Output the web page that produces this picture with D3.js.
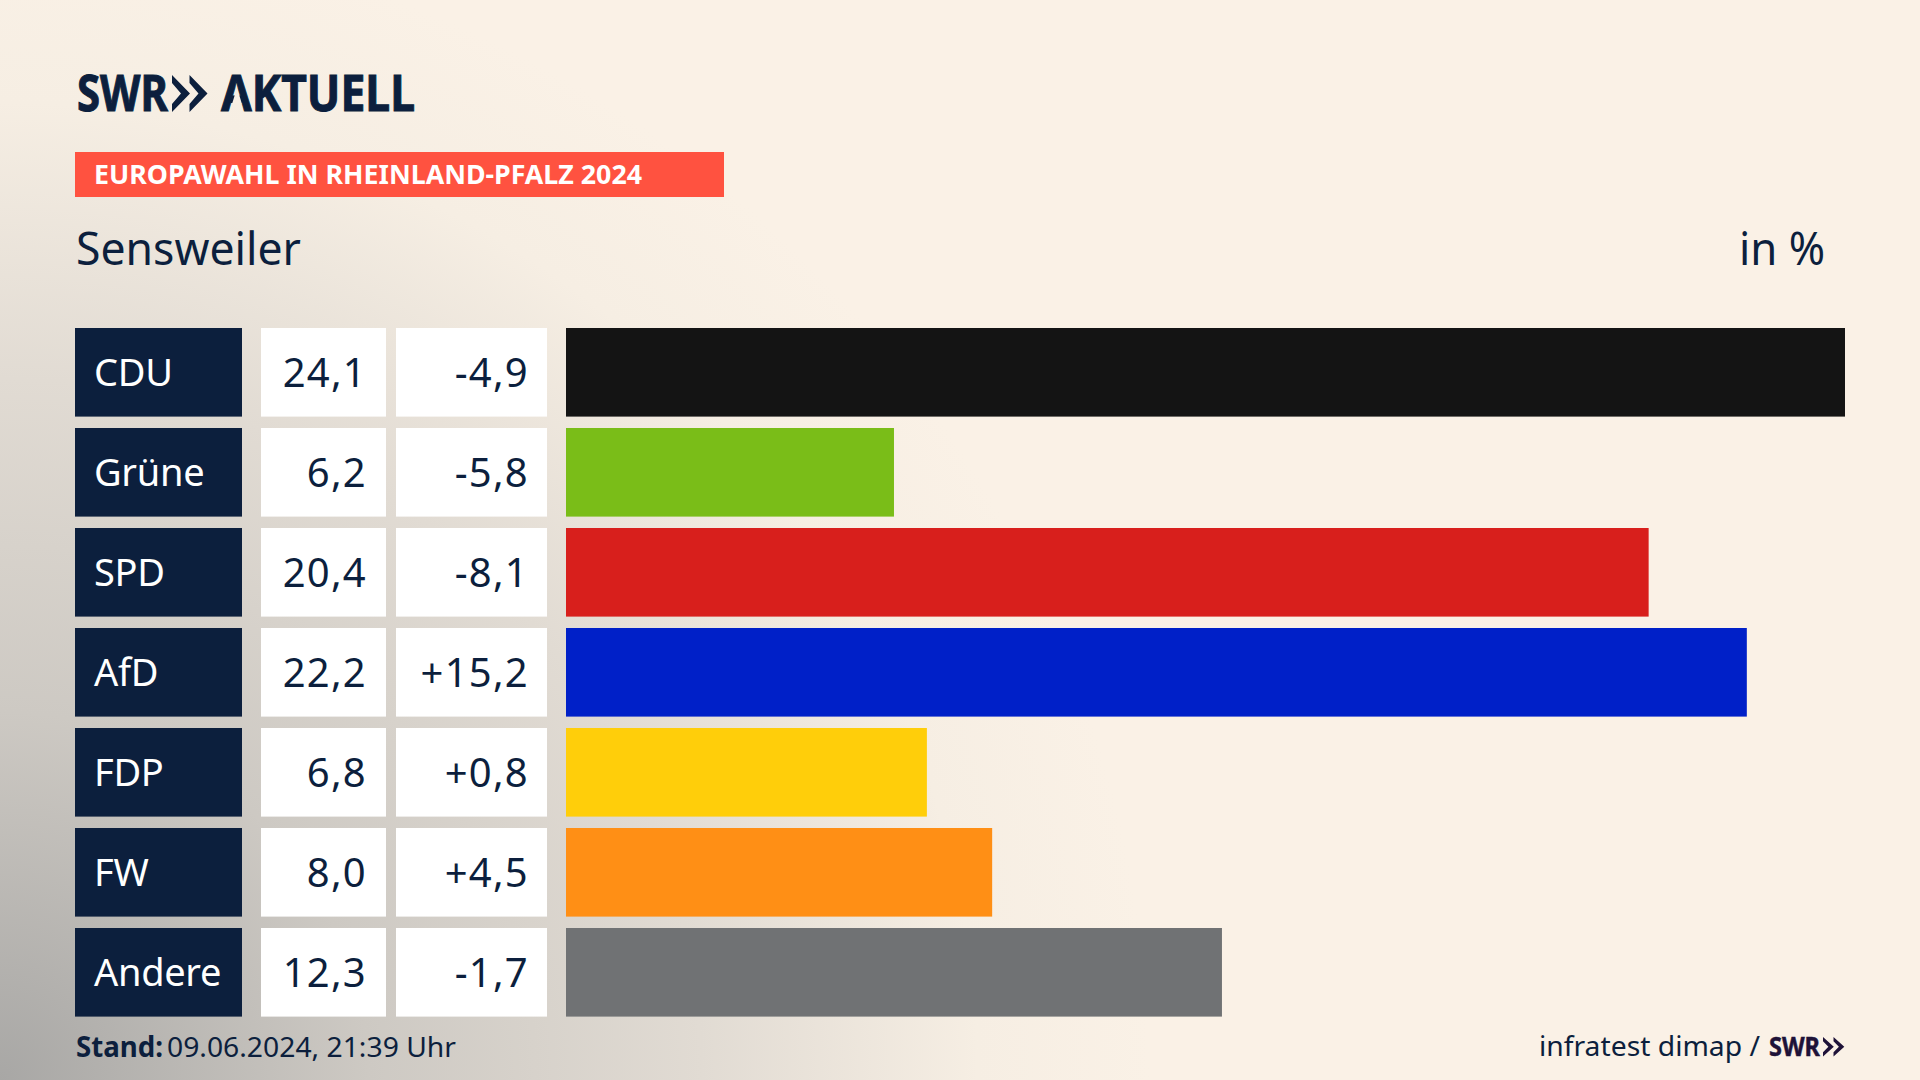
<!DOCTYPE html>
<html lang="de">
<head>
<meta charset="utf-8">
<title>Europawahl in Rheinland-Pfalz 2024</title>
<script src="https://cdnjs.cloudflare.com/ajax/libs/d3/7.9.0/d3.min.js"></script>
<style>
  html, body { margin: 0; padding: 0; background: #faf1e6; overflow: hidden; }
  svg { display: block; font-family: "Noto Sans", sans-serif; }
</style>
</head>
<body>
<svg id="chart" width="1920" height="1080" viewBox="0 0 1920 1080"></svg>
<script>
const parties = ["CDU", "Grüne", "SPD", "AfD", "FDP", "FW", "Andere"];
const results = [24.1, 6.2, 20.4, 22.2, 6.8, 8.0, 12.3];
const changes = [-4.9, -5.8, -8.1, 15.2, 0.8, 4.5, -1.7];
const barValues = [24.1, 6.18, 20.4, 22.25, 6.8, 8.03, 12.36];
const partyColors = ["#141414", "#7abd18", "#d81f1c", "#0020c8", "#ffce0a", "#ff8f15", "#707274"];

const NAVY = "#0c1f3d";
const chevrons = "M0 0L18 18.5L0 37L0 29L9 18.5L0 8ZM17.5 0L35.5 18.5L17.5 37L17.5 29L26.5 18.5L17.5 8Z";

const root = d3.select("#chart");
const deLocale = d3.formatLocale({ decimal: ",", thousands: ".", grouping: [3], currency: ["", " €"], minus: "-" });
const formatResult = deLocale.format(".1f");
const formatChange = deLocale.format("+.1f");

const yScale = d3.scaleBand().domain(parties).range([328, 1016.6]).paddingInner(0.114);
const xScale = d3.scaleLinear().domain([0, 24.1]).range([566, 1845]);
const rows = parties.map((party, i) => ({
  party,
  result: results[i],
  change: changes[i],
  bar: barValues[i],
  color: partyColors[i]
}));

// background: grey glow from the lower left corner
const defs = root.append("defs");
const glow = defs.append("radialGradient")
  .attr("id", "glow")
  .attr("gradientUnits", "userSpaceOnUse")
  .attr("cx", 0).attr("cy", 1080).attr("r", 1150);
glow.selectAll("stop")
  .data([[0, "#a8a7a5"], [0.32, "#cdc9c3"], [0.61, "#e1dbd3"], [0.85, "#f6eee3"], [1, "#faf1e6"]])
  .join("stop")
  .attr("offset", d => d[0])
  .attr("stop-color", d => d[1]);
root.append("rect").attr("width", 1920).attr("height", 1080).attr("fill", "#faf1e6");
root.append("rect").attr("width", 1920).attr("height", 1080).attr("fill", "url(#glow)");

function addText(x, y, text, size, width, options = {}) {
  const node = root.append("text")
    .attr("x", x)
    .attr("y", y)
    .attr("font-size", size)
    .attr("font-weight", options.weight || 400)
    .attr("fill", options.fill || NAVY)
    .attr("text-anchor", options.anchor || "start")
    .text(text);
  if (width) node.attr("textLength", width).attr("lengthAdjust", "spacingAndGlyphs");
  return node;
}

// logo
addText(77, 111, "SWR", 50, 91, { weight: 700 }).attr("stroke", NAVY).attr("stroke-width", 1);
root.append("path").attr("d", chevrons).attr("transform", "translate(172,75)").attr("fill", NAVY);
addText(221, 111, "AKTUELL", 50, 194, { weight: 700 }).attr("stroke", NAVY).attr("stroke-width", 1);
// the logo's A has no crossbar
root.append("path").attr("d", "M234.8 95L239.2 95L241.8 103.5L232.2 103.5Z").attr("fill", "#f8efe4");

// header
root.append("rect").attr("x", 75).attr("y", 152).attr("width", 649).attr("height", 45).attr("fill", "#ff5240");
addText(94, 184, "EUROPAWAHL IN RHEINLAND-PFALZ 2024", 27, 548, { weight: 700, fill: "#fff" });
addText(76, 265, "Sensweiler", 45, 225);
addText(1825, 265, "in %", 45, 86, { anchor: "end" });

// rows
const row = root.append("g").selectAll("g")
  .data(rows)
  .join("g")
  .attr("transform", d => `translate(0,${yScale(d.party)})`);
const h = yScale.bandwidth();

row.append("rect").attr("x", 75).attr("width", 167).attr("height", h).attr("fill", NAVY);
row.append("rect").attr("x", 261).attr("width", 125).attr("height", h).attr("fill", "#fff");
row.append("rect").attr("x", 396).attr("width", 151).attr("height", h).attr("fill", "#fff");
row.append("rect")
  .attr("x", xScale(0))
  .attr("width", d => xScale(d.bar) - xScale(0))
  .attr("height", h)
  .attr("fill", d => d.color);

row.append("text")
  .attr("x", 94).attr("y", 58)
  .attr("font-size", 38).attr("letter-spacing", -0.3).attr("fill", "#fff")
  .text(d => d.party);
row.append("text")
  .attr("x", 367).attr("y", 58.5)
  .attr("font-size", 40).attr("letter-spacing", 1.25).attr("fill", NAVY).attr("text-anchor", "end")
  .text(d => formatResult(d.result));
row.append("text")
  .attr("x", 529).attr("y", 58.5)
  .attr("font-size", 40).attr("letter-spacing", 1.25).attr("fill", NAVY).attr("text-anchor", "end")
  .text(d => formatChange(d.change));

// footer
addText(76, 1057, "Stand:", 28, 87, { weight: 700 });
addText(167, 1057, "09.06.2024, 21:39 Uhr", 28, 289);
addText(1539, 1056, "infratest dimap /", 28, 221);
addText(1769, 1056, "SWR", 27, 51, { weight: 700, fill: "#1e1238" }).attr("stroke", "#1e1238").attr("stroke-width", 0.5);
root.append("path").attr("d", chevrons).attr("transform", "translate(1823,1037) scale(0.6,0.53)").attr("fill", "#1e1238");
</script>
</body>
</html>
